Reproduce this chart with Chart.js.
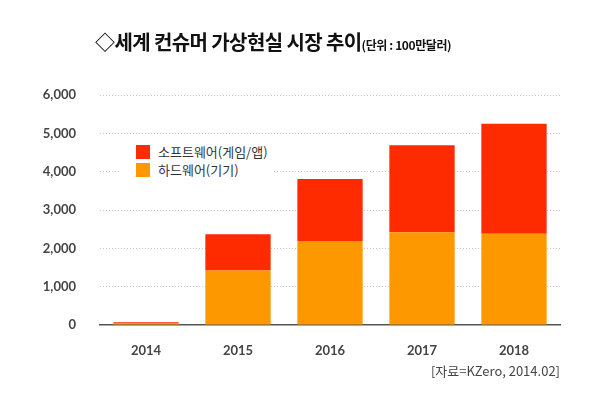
<!DOCTYPE html>
<html>
<head>
<meta charset="utf-8">
<script src="https://cdn.jsdelivr.net/npm/chart.js@4"></script>
<style>
  html, body { margin: 0; padding: 0; background: #fff; }
  #wrap { position: relative; width: 612px; height: 401px; overflow: hidden; }
  #chart { position: absolute; left: 0; top: 0; }
  #title { position: absolute; left: 95px; top: 27px; white-space: nowrap;
    font-family: "Noto Sans CJK KR", sans-serif; font-weight: bold; font-size: 20px; color: #111; letter-spacing: -0.6px; }
  #title small { font-size: 12px; letter-spacing: -0.4px; }
  #legend { position: absolute; left: 119px; top: 137px; width: 155px; height: 42px; background: #fff;
    font-family: "Noto Sans CJK KR", sans-serif; font-size: 13px; color: #333; }
  .item { position: absolute; left: 17px; height: 14px; line-height: 14px; white-space: nowrap; }
  .item i { display: inline-block; width: 14px; height: 14px; vertical-align: top; margin-right: 8px; }
  #source { position: absolute; right: 52px; top: 361px; white-space: nowrap;
    font-family: "Noto Sans CJK KR", sans-serif; font-size: 13px; color: #444; }
</style>
</head>
<body>
<div id="wrap">
  <canvas id="chart" width="612" height="401"></canvas>
  <div id="title">◇세계 컨슈머 가상현실 시장 추이<small>(단위 : 100만달러)</small></div>
  <div id="legend"></div>
  <div id="source">[자료=KZero, 2014.02]</div>
</div>
<script>
// values, in millions of dollars
const years = ['2014', '2015', '2016', '2017', '2018'];
const hardware = [50, 1420, 2190, 2420, 2380];
const software = [20, 950, 1620, 2270, 2870];
const yTicks = [0, 1000, 2000, 3000, 4000, 5000, 6000];

const hwColor = '#fd9800';
const swColor = '#fe2a00';

// legend drawn as html so it can sit inside the plot
const legendItems = [
    {label: '소프트웨어(게임/앱)', color: swColor},
    {label: '하드웨어(기기)', color: hwColor}
];
const legendEl = document.getElementById('legend');
legendItems.forEach((item, i) => {
    const d = document.createElement('div');
    d.className = 'item';
    d.style.top = (8 + i * 18) + 'px';
    d.innerHTML = '<i style="background:' + item.color + '"></i>' + item.label;
    legendEl.appendChild(d);
});

const ctx = document.getElementById('chart').getContext('2d');
new Chart(ctx, {
    type: 'bar',
    data: {
        labels: years,
        datasets: [{
            label: '하드웨어(기기)',
            data: hardware,
            backgroundColor: hwColor
        }, {
            label: '소프트웨어(게임/앱)',
            data: software,
            backgroundColor: swColor
        }]
    },
    options: {
        responsive: false,
        animation: false,
        layout: {padding: {left: 0, right: 52, top: 95, bottom: 46}},
        plugins: {legend: {display: false}, tooltip: {enabled: false}},
        datasets: {bar: {categoryPercentage: 1, barPercentage: 0.71}},
        scales: {
            x: {
                stacked: true,
                grid: {display: false},
                border: {display: true, color: '#555', width: 1.5},
                ticks: {color: '#444', padding: 10, font: {family: 'Lato', size: 13, weight: 'bold'}},
                afterFit: s => { s.height = 30; }
            },
            y: {
                stacked: true,
                min: 0,
                max: 6000,
                afterBuildTicks: s => { s.ticks = yTicks.map(v => ({value: v})); },
                grid: {
                    drawTicks: false,
                    color: c => c.tick && c.tick.value === 0 ? 'rgba(0,0,0,0)' : '#c8c8c8',
                    lineWidth: 1
                },
                border: {display: false, dash: [1, 2]},
                ticks: {
                    color: '#444',
                    padding: 24,
                    font: {family: 'Lato', size: 13, weight: 'bold'},
                    callback: v => v.toLocaleString('en-US')
                },
                afterFit: s => { s.width = 100; }
            }
        }
    }
});
</script>
</body>
</html>
